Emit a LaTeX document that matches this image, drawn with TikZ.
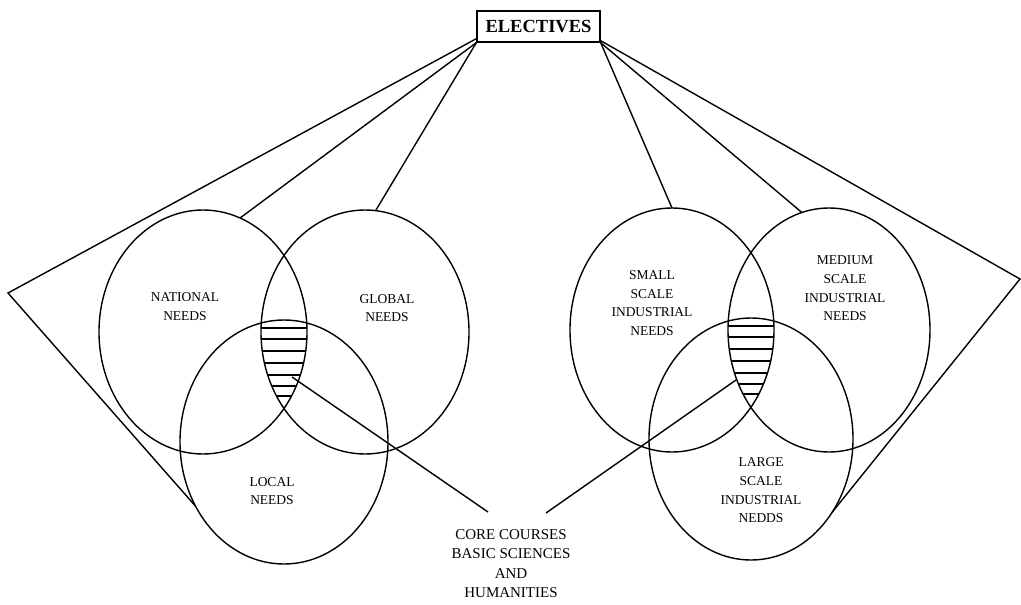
\documentclass[tikz,border=0pt]{standalone}
\usepackage{fontspec}
\setmainfont{Liberation Serif}
\usetikzlibrary{shapes.geometric}
\begin{document}
\begin{tikzpicture}[x=1pt,y=-1pt,
  venn/.style={draw, ellipse, line width=1.4pt, inner sep=0pt, outer sep=0pt, minimum width=208pt, minimum height=244pt},
  lbl/.style={align=center, inner sep=0pt, font=\fontsize{13.5}{18.7}\selectfont},
  link/.style={line width=1.4pt, line join=miter},
  hatchline/.style={line width=1.4pt}]
\useasboundingbox (0,0) rectangle (1021,605);
\fill[white] (0,0) rectangle (1021,605);

% title
\node[draw, line width=1.4pt, minimum width=123pt, minimum height=31pt, inner sep=0pt,
      font=\fontsize{18.5}{20}\selectfont\bfseries] (elec) at (538.5,26.5) {ELECTIVES};

% left group
\node[venn] (nat) at (203,332) {};
\node[venn] (glo) at (365,332) {};
\node[venn] (loc) at (284,442) {};
% right group
\node[venn, minimum width=204pt] (sml) at (672,330) {};
\node[venn, minimum width=202pt] (med) at (829,330) {};
\node[venn, minimum width=204pt, minimum height=242pt] (lrg) at (751,439) {};

% hatching left
\begin{scope}
  \clip (nat.center) ellipse [x radius=104pt, y radius=122pt];
  \clip (glo.center) ellipse [x radius=104pt, y radius=122pt];
  \clip (loc.center) ellipse [x radius=104pt, y radius=122pt];
  \foreach \yy in {328,339,351,363,375,386,396}
    \draw[hatchline] (240,\yy) -- (330,\yy);
\end{scope}
% hatching right
\begin{scope}
  \clip (sml.center) ellipse [x radius=102pt, y radius=122pt];
  \clip (med.center) ellipse [x radius=101pt, y radius=122pt];
  \clip (lrg.center) ellipse [x radius=102pt, y radius=121pt];
  \foreach \yy in {326,337,349,361,373,384,394}
    \draw[hatchline] (700,\yy) -- (800,\yy);
\end{scope}

% labels
\node[lbl] (tnat) at (185,306.5) {NATIONAL\\NEEDS};
\node[lbl] (tglo) at (387,308) {GLOBAL\\NEEDS};
\node[lbl] (tloc) at (272,491) {LOCAL\\NEEDS};
\node[lbl] (tsml) at (652,303) {SMALL\\SCALE\\INDUSTRIAL\\NEEDS};
\node[lbl] (tmed) at (845,288.5) {MEDIUM\\SCALE\\INDUSTRIAL\\NEEDS};
\node[lbl] (tlrg) at (761,490.5) {LARGE\\SCALE\\INDUSTRIAL\\NEDDS};
\node[align=center, inner sep=0pt, font=\fontsize{15}{19.5}\selectfont] (core) at (511,563.5)
  {CORE COURSES\\BASIC SCIENCES\\AND\\HUMANITIES};

% free ends
\coordinate (lv) at (8,293);
\coordinate (rv) at (1020,279);
\coordinate (hl) at (292,377);
\coordinate (hr) at (736,380);
\coordinate (cl) at (488,512);
\coordinate (cr) at (546,513);

% connectors from ELECTIVES
\draw[link] ([yshift=4pt]elec.south west) -- (lv) -- (loc.216);
\draw[link] (elec.south west) -- (nat.72);
\draw[link] (elec.south west) -- (glo.85);
\draw[link] (elec.south east) -- (sml.90);
\draw[link] (elec.south east) -- (med.103.5);
\draw[link] ([yshift=2pt]elec.south east) -- (rv) -- (lrg.318);

% connectors to core courses
\draw[link] (hl) -- (cl);
\draw[link] (hr) -- (cr);
\end{tikzpicture}
\end{document}
